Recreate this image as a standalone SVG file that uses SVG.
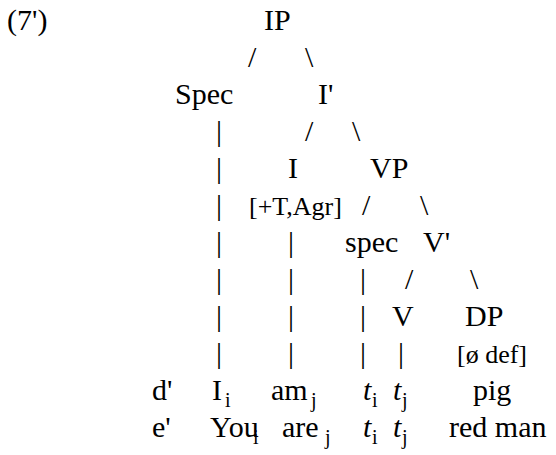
<svg xmlns="http://www.w3.org/2000/svg" width="556" height="455" viewBox="0 0 556 455">
<defs>
<style type="text/css">
text { font-family: "Liberation Serif", "Times New Roman", serif; fill: #000; font-size: 30px; }
.sm { font-size: 26px; }
.sub { font-size: 20px; }
.it { font-style: italic; }
</style>
</defs>
<rect width="556" height="455" fill="#fff"/>
<text id="label" x="7" y="30">(7')</text>
<g id="connectors">
<text x="248" y="67">/</text><text x="305" y="67">\</text>
<text x="216" y="141">|</text><text x="305" y="141">/</text><text x="352" y="141">\</text>
<text x="216" y="178">|</text>
<text x="216" y="215">|</text><text x="362" y="215">/</text><text x="420" y="215">\</text>
<text x="216" y="252">|</text><text x="288" y="252">|</text>
<text x="216" y="289">|</text><text x="288" y="289">|</text><text x="360" y="289">|</text><text x="405" y="289">/</text><text x="470" y="289">\</text>
<text x="216" y="326">|</text><text x="288" y="326">|</text><text x="360" y="326">|</text>
<text x="216" y="363">|</text><text x="288" y="363">|</text><text x="360" y="363">|</text><text x="398" y="363">|</text>
</g>
<g id="IP"><text x="264" y="30">IP</text></g>
<g id="Spec"><text x="175" y="104">Spec</text></g>
<g id="Ibar"><text x="318" y="104">I'</text></g>
<g id="I"><text x="288" y="178">I</text><text class="sm" x="249" y="215">[+T,Agr]</text></g>
<g id="VP"><text x="370" y="178">VP</text></g>
<g id="specVP"><text x="345" y="252">spec</text></g>
<g id="Vbar"><text x="423" y="252">V'</text></g>
<g id="V"><text x="392" y="326">V</text></g>
<g id="DP"><text x="465" y="326">DP</text><text class="sm" x="457" y="363">[ø def]</text></g>
<g id="row-d">
<text x="152" y="400">d'</text>
<text x="212" y="400">I</text><text class="sub" x="225" y="407">i</text>
<text x="271" y="400">am</text><text class="sub" x="311" y="407">j</text>
<text class="it" x="363" y="400">t</text><text class="sub" x="372" y="407">i</text>
<text class="it" x="393" y="400">t</text><text class="sub" x="402" y="407">j</text>
<text x="473" y="400">pig</text>
</g>
<g id="row-e">
<text x="152" y="437">e'</text>
<text x="210" y="437">You</text><text class="sub" x="253" y="444">i</text>
<text x="282" y="437">are</text><text class="sub" x="325" y="444">j</text>
<text class="it" x="363" y="437">t</text><text class="sub" x="372" y="444">i</text>
<text class="it" x="393" y="437">t</text><text class="sub" x="402" y="444">j</text>
<text x="449" y="437">red man</text>
</g>
</svg>
